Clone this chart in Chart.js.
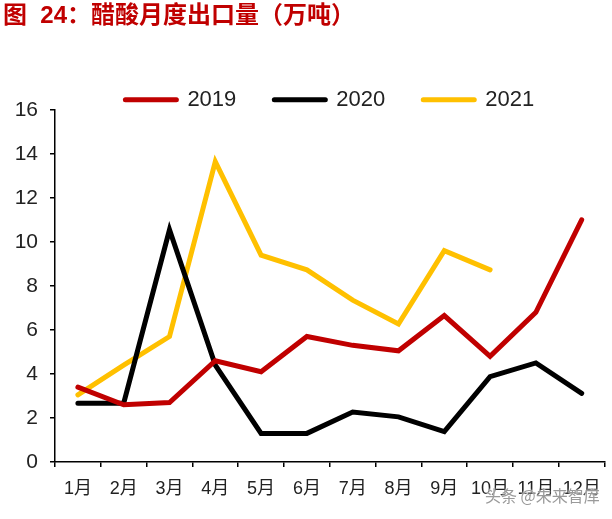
<!DOCTYPE html>
<html>
<head>
<meta charset="utf-8">
<script src="https://cdn.jsdelivr.net/npm/chart.js@4.4.0/dist/chart.umd.min.js"></script>
<style>
html,body{margin:0;padding:0;background:#fff;}
#wrap{position:relative;width:612px;height:519px;}
#wm{position:absolute;left:485px;top:483px;font:16px 'Noto Sans CJK SC',sans-serif;color:#9a9a9a;text-shadow:0 0 2px #fff,0 0 2px #fff;white-space:nowrap;}
</style>
</head>
<body>
<div id="wrap">
<canvas id="c" width="612" height="519"></canvas>
<div id="wm">头条 @未来智库</div>
</div>
<script>
const months = ['1月','2月','3月','4月','5月','6月','7月','8月','9月','10月','11月','12月'];
const seriesNames = ['2019','2020','2021'];
const s2019 = [3.4, 2.6, 2.7, 4.6, 4.1, 5.7, 5.3, 5.05, 6.65, 4.8, 6.8, 11.0];
const s2020 = [2.67, 2.67, 10.55, 4.4, 1.3, 1.3, 2.27, 2.05, 1.38, 3.88, 4.5, 3.12];
const s2021 = [3.05, 4.4, 5.7, 13.65, 9.4, 8.73, 7.35, 6.27, 9.6, 8.73, null, null];
const colors = ['#C00000', '#000000', '#FFC000'];
const titleText = '图  24：醋酸月度出口量（万吨）';

const FONT = "'Liberation Sans','Noto Sans CJK SC',sans-serif";

function ds(label, data, color) {
  return {
    label, data,
    borderColor: color, backgroundColor: color,
    borderWidth: 5, pointRadius: 0, tension: 0,
    borderJoinStyle: 'miter', borderCapStyle: 'round',
    fill: false, spanGaps: false
  };
}

new Chart(document.getElementById('c').getContext('2d'), {
  type: 'line',
  data: {
    labels: months,
    datasets: [
      ds(seriesNames[0], s2019, colors[0]),
      ds(seriesNames[1], s2020, colors[1]),
      ds(seriesNames[2], s2021, colors[2])
    ]
  },
  options: {
    responsive: false,
    animation: false,
    devicePixelRatio: 1,
    layout: { padding: { left: 3, right: 7, top: 0, bottom: 0 } },
    plugins: {
      title: {
        display: true, text: titleText, align: 'start', color: '#C00000',
        font: { family: "'Liberation Sans','Noto Sans CJK SC',sans-serif", size: 24, weight: 'bold' },
        padding: { top: 2, bottom: 20 }
      },
      legend: {
        display: true, fullSize: false, maxHeight: 59,
        labels: {
          usePointStyle: true, pointStyleWidth: 51, boxHeight: 5,
          padding: 38, color: '#222',
          font: { family: FONT, size: 22 },
          generateLabels(chart) {
            return chart.data.datasets.map((d, i) => ({
              text: d.label, fillStyle: d.borderColor, strokeStyle: d.borderColor,
              lineWidth: 5, lineCap: 'round', pointStyle: 'line', hidden: false,
              datasetIndex: i, fontColor: '#222'
            }));
          }
        }
      },
      tooltip: { enabled: false }
    },
    scales: {
      x: {
        offset: true,
        grid: { display: true, offset: true, drawOnChartArea: false, drawTicks: true, tickLength: 5, color: '#000', lineWidth: 1.5 },
        border: { display: true, color: '#000', width: 1.5 },
        ticks: { color: '#222', font: { family: FONT, size: 18 }, padding: 11, maxRotation: 0, autoSkip: false },
        afterFit(s) { s.height = 57; }
      },
      y: {
        min: 0, max: 16,
        grid: { display: true, drawOnChartArea: false, drawTicks: true, tickLength: 5, color: '#000', lineWidth: 1.5 },
        border: { display: true, color: '#000', width: 1.5 },
        ticks: { stepSize: 2, color: '#222', font: { family: FONT, size: 21 }, padding: 12 },
        afterFit(s) { s.width = 52; }
      }
    }
  }
});
</script>
</body>
</html>
